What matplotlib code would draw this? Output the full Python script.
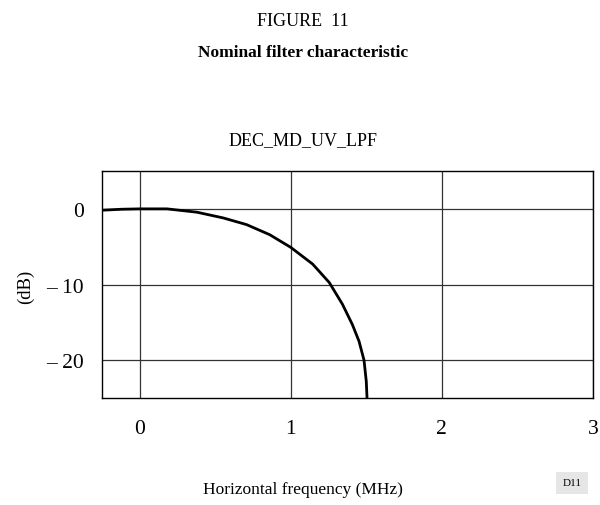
import matplotlib
matplotlib.use("Agg")
import matplotlib.pyplot as plt
import numpy as np

plt.rcParams['font.family'] = ['Liberation Serif', 'DejaVu Serif']

freq_mhz = [-0.25, -0.12, 0.0, 0.18, 0.378, 0.553, 0.707, 0.86, 1.0, 1.145, 1.255,
            1.342, 1.408, 1.452, 1.485, 1.500, 1.505]
gain_db = [-0.18, -0.05, 0.0, 0.0, -0.44, -1.2, -2.08, -3.41, -5.09, -7.3, -9.74,
           -12.6, -15.3, -17.5, -20.0, -22.8, -25.0]

x_ticks = [0, 1, 2, 3]
y_ticks = [0, -10, -20]
y_tick_labels = ["0", "\u2013 10", "\u2013 20"]

fig = plt.figure(figsize=(6.0, 5.06), dpi=100)
ax = fig.add_axes([0.170, 0.2115, 0.818, 0.4485])

ax.plot(freq_mhz, gain_db, color='black', lw=2.0, solid_joinstyle='round')
ax.set_xlim(-0.25, 3.0)
ax.set_ylim(-25, 5)
ax.set_xticks(x_ticks)
ax.set_yticks(y_ticks)
ax.set_yticklabels(y_tick_labels)
ax.grid(True, color='#333333', lw=0.9)
ax.tick_params(axis='y', length=0, labelsize=15.5, pad=13)
ax.tick_params(axis='x', length=0, labelsize=15.5, pad=15)
for s in ax.spines.values():
    s.set_color('black')
    s.set_linewidth(1.0)

fig.text(0.505, 0.958, "FIGURE  11", ha='center', va='center', fontsize=13)
fig.text(0.505, 0.895, "Nominal filter characteristic", ha='center', va='center', fontsize=12.5, fontweight='bold')
fig.text(0.505, 0.722, "DEC_MD_UV_LPF", ha='center', va='center', fontsize=13)
fig.text(0.505, 0.032, "Horizontal frequency (MHz)", ha='center', va='center', fontsize=12.5)
fig.text(0.042, 0.434, "(dB)", ha='center', va='center', fontsize=13.5, rotation=90)
fig.text(0.953, 0.044, "D11", ha='center', va='center', fontsize=8,
         bbox=dict(boxstyle='square,pad=0.6', facecolor='#e6e6e6', edgecolor='none'))

fig.savefig("out.png", dpi=100)
